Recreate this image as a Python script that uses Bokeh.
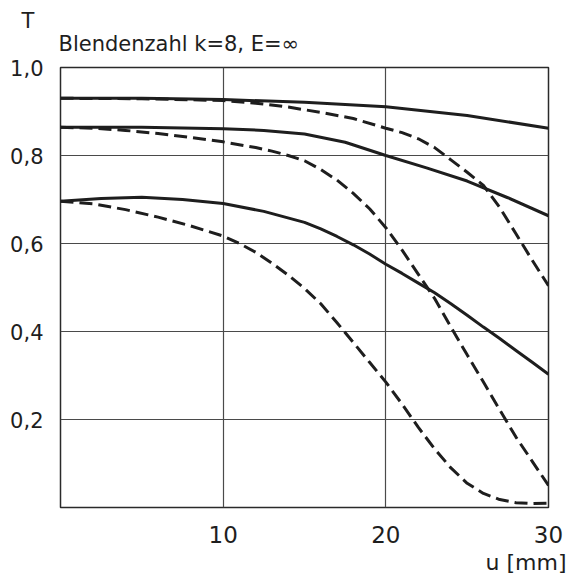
from bokeh.plotting import figure
from bokeh.models import Range1d, FixedTicker, Title
from bokeh.embed import file_html
from bokeh.resources import INLINE

# ---- data ----
u_s1 = [0, 5, 10, 15, 20, 25, 30]
T_s1 = [0.930, 0.930, 0.927, 0.921, 0.911, 0.891, 0.862]

u_d1 = [0, 5, 10, 12, 14, 16, 18, 20, 21, 22, 23, 24, 25, 26, 27, 28, 29, 30]
T_d1 = [0.930, 0.929, 0.925, 0.919, 0.910, 0.898, 0.884, 0.862, 0.852, 0.838, 0.818, 0.790, 0.762, 0.732, 0.682, 0.622, 0.562, 0.504]

u_s2 = [0, 5, 10, 12.5, 15, 17.5, 20, 22.5, 25, 27.5, 30]
T_s2 = [0.864, 0.864, 0.861, 0.857, 0.849, 0.830, 0.800, 0.772, 0.742, 0.704, 0.663]

u_d2 = [0, 2, 4, 6, 8, 10, 12, 13, 14, 15, 16, 17, 18, 19, 20, 21, 22, 23, 24, 25, 26, 27, 28, 29, 30]
T_d2 = [0.864, 0.862, 0.857, 0.850, 0.841, 0.831, 0.818, 0.810, 0.800, 0.788, 0.768, 0.744, 0.714, 0.679, 0.636, 0.585, 0.530, 0.475, 0.410, 0.347, 0.285, 0.222, 0.160, 0.105, 0.050]

u_s3 = [0, 2.5, 5, 7.5, 10, 12.5, 15, 16, 17, 18, 19, 20, 21, 22, 23, 24, 25, 26, 27, 28, 29, 30]
T_s3 = [0.696, 0.702, 0.705, 0.700, 0.691, 0.673, 0.648, 0.633, 0.616, 0.597, 0.576, 0.553, 0.532, 0.510, 0.488, 0.463, 0.437, 0.410, 0.384, 0.357, 0.330, 0.303]

u_d3 = [0, 2, 4, 6, 8, 10, 11, 12, 13, 14, 15, 16, 17, 18, 19, 20, 21, 22, 23, 24, 25, 26, 27, 28, 29, 30]
T_d3 = [0.696, 0.690, 0.677, 0.660, 0.640, 0.617, 0.600, 0.580, 0.555, 0.528, 0.498, 0.463, 0.420, 0.375, 0.330, 0.285, 0.235, 0.182, 0.133, 0.090, 0.055, 0.032, 0.018, 0.011, 0.009, 0.010]

x_ticks = [10, 20, 30]
x_tick_labels = ["10", "20", "30"]
y_ticks = [0.2, 0.4, 0.6, 0.8, 1.0]
y_tick_labels = ["0,2", "0,4", "0,6", "0,8", "1,0"]

title_text = "Blendenzahl k=8, E=\u221e"
y_label_text = "T"
x_label_text = "u [mm]"

FONT = "DejaVu Sans"
INK = "#1e1e1e"

p = figure(width=570, height=580, output_backend="svg", toolbar_location=None,
           x_range=Range1d(0, 30), y_range=Range1d(0, 1.0),
           min_border_left=60, min_border_right=22, min_border_top=67, min_border_bottom=73)

p.background_fill_color = "white"
p.border_fill_color = "white"
p.outline_line_color = "#2a2a2a"
p.outline_line_width = 1.5

p.xaxis.ticker = FixedTicker(ticks=x_ticks)
p.yaxis.ticker = FixedTicker(ticks=y_ticks)
p.xaxis.major_label_overrides = dict(zip(x_ticks, x_tick_labels))
p.yaxis.major_label_overrides = dict(zip(y_ticks, y_tick_labels))
for ax in (p.xaxis, p.yaxis):
    ax.axis_line_color = None
    ax.major_tick_line_color = None
    ax.minor_tick_line_color = None
    ax.major_label_text_font = FONT
    ax.major_label_text_color = INK
p.xaxis.major_label_text_font_size = "23px"
p.yaxis.major_label_text_font_size = "21px"
p.xaxis.major_label_standoff = 12
p.yaxis.major_label_standoff = 11

p.xgrid.ticker = FixedTicker(ticks=[10, 20])
p.ygrid.ticker = FixedTicker(ticks=[0.2, 0.4, 0.6, 0.8])
p.grid.grid_line_color = "#4a4a4a"
p.grid.grid_line_width = 1.2

LW = 3
DASH = "13 6"
p.line(u_s1, T_s1, line_color=INK, line_width=LW)
p.line(u_d1, T_d1, line_color=INK, line_width=LW, line_dash=DASH)
p.line(u_s2, T_s2, line_color=INK, line_width=LW)
p.line(u_d2, T_d2, line_color=INK, line_width=LW, line_dash=DASH)
p.line(u_s3, T_s3, line_color=INK, line_width=LW)
p.line(u_d3, T_d3, line_color=INK, line_width=LW, line_dash=DASH)

# header texts as title panels (annotations inside the plot are clipped to the frame)
p.add_layout(Title(text=title_text, align="left", offset=-2, standoff=20,
                   text_font=FONT, text_font_size="21px", text_font_style="normal",
                   text_color=INK, vertical_align="top"), "above")
p.add_layout(Title(text=y_label_text, align="left", offset=-39, standoff=-22,
                   text_font=FONT, text_font_size="21px", text_font_style="normal",
                   text_color=INK, vertical_align="bottom"), "above")
p.add_layout(Title(text=x_label_text, align="right", offset=-18, standoff=5,
                   text_font=FONT, text_font_size="22px", text_font_style="normal",
                   text_color=INK, vertical_align="bottom"), "below")

open("out.html", "w").write(file_html(p, INLINE))
